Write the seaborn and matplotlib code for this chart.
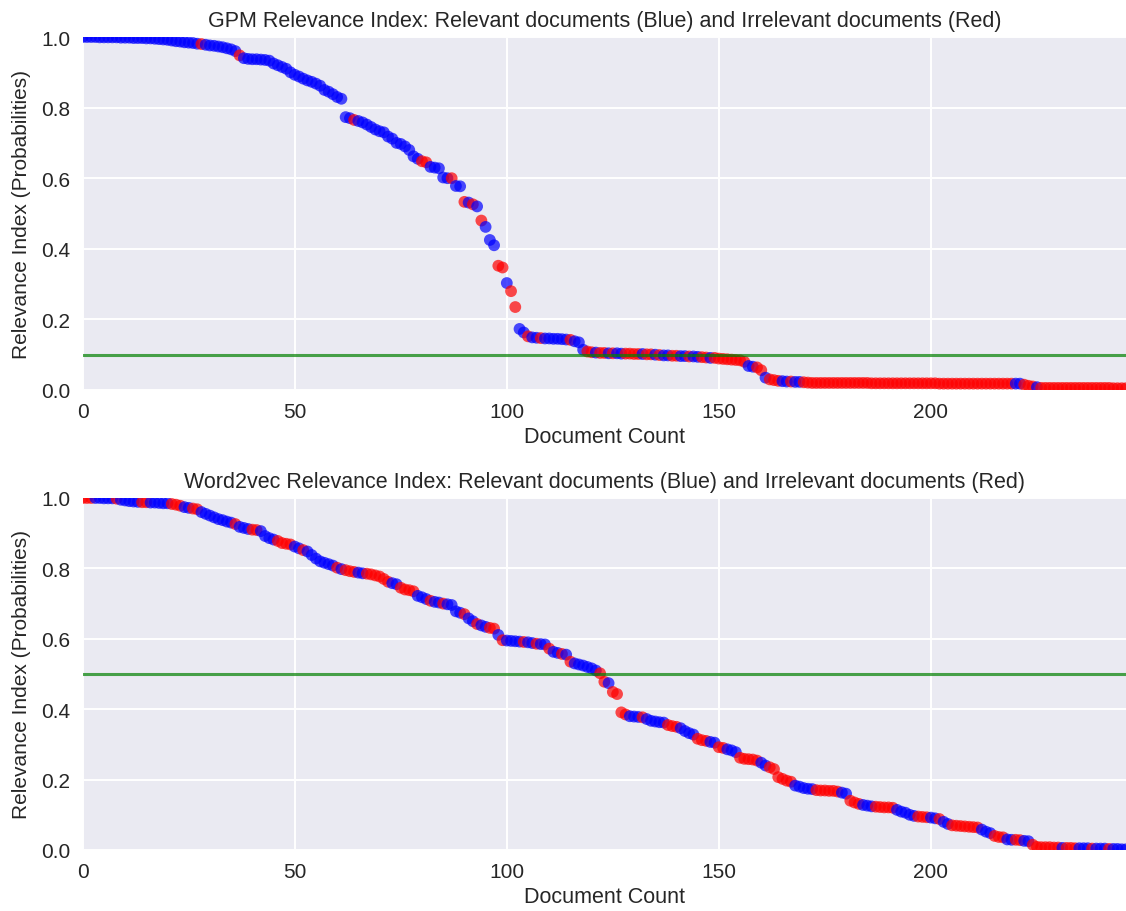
import numpy as np
import pandas as pd
import matplotlib
matplotlib.use("Agg")
import matplotlib.pyplot as plt
import seaborn as sns

# ---------------- data ----------------
gpm_values = [
    1.000, 1.000, 1.000, 1.000, 0.999, 0.999, 0.999, 0.999, 0.999, 0.998,
    0.998, 0.998, 0.997, 0.997, 0.997, 0.996, 0.996, 0.995, 0.994, 0.993,
    0.992, 0.990, 0.988, 0.987, 0.985, 0.984, 0.983, 0.981, 0.980, 0.978,
    0.976, 0.975, 0.973, 0.971, 0.968, 0.965, 0.960, 0.948, 0.940, 0.938,
    0.937, 0.937, 0.936, 0.935, 0.933, 0.925, 0.920, 0.915, 0.910, 0.900,
    0.893, 0.888, 0.882, 0.877, 0.873, 0.868, 0.862, 0.850, 0.845, 0.838,
    0.830, 0.825, 0.773, 0.770, 0.765, 0.762, 0.758, 0.752, 0.745, 0.738,
    0.733, 0.730, 0.718, 0.712, 0.700, 0.697, 0.690, 0.680, 0.662, 0.655,
    0.648, 0.645, 0.632, 0.630, 0.628, 0.602, 0.600, 0.600, 0.578, 0.577,
    0.533, 0.531, 0.526, 0.520, 0.480, 0.462, 0.425, 0.410, 0.352, 0.347,
    0.303, 0.280, 0.235, 0.173, 0.163, 0.152, 0.149, 0.148, 0.147, 0.146,
    0.146, 0.145, 0.145, 0.144, 0.143, 0.142, 0.138, 0.135, 0.114, 0.109,
    0.107, 0.106, 0.105, 0.105, 0.104, 0.104, 0.104, 0.103, 0.103, 0.103,
    0.102, 0.102, 0.102, 0.101, 0.101, 0.100, 0.099, 0.098, 0.098, 0.097,
    0.097, 0.096, 0.096, 0.095, 0.095, 0.094, 0.093, 0.092, 0.091, 0.091,
    0.089, 0.088, 0.087, 0.086, 0.085, 0.084, 0.080, 0.068, 0.066, 0.064,
    0.056, 0.035, 0.030, 0.028, 0.026, 0.025, 0.024, 0.024, 0.023, 0.023,
    0.022, 0.021, 0.020, 0.020, 0.020, 0.020, 0.020, 0.020, 0.020, 0.020,
    0.020, 0.020, 0.020, 0.020, 0.020, 0.020, 0.019, 0.019, 0.019, 0.019,
    0.019, 0.019, 0.019, 0.019, 0.019, 0.019, 0.019, 0.019, 0.019, 0.019,
    0.019, 0.019, 0.018, 0.018, 0.018, 0.018, 0.018, 0.018, 0.018, 0.018,
    0.018, 0.018, 0.018, 0.018, 0.018, 0.018, 0.018, 0.018, 0.018, 0.018,
    0.018, 0.018, 0.015, 0.012, 0.010, 0.008, 0.006, 0.006, 0.006, 0.006,
    0.006, 0.006, 0.006, 0.006, 0.006, 0.006, 0.006, 0.006, 0.006, 0.006,
    0.006, 0.006, 0.006, 0.005, 0.005, 0.005, 0.005,
]
# B = relevant (blue), R = irrelevant (red)
gpm_labels = (
    "BBBBBBBBBB" "BBBBBBBBBB" "BBBBBBBBRB" "BBBBBBBRBB" "BBBBBBBBBB"
    "BBBBBBBBBB" "BBBBRBBBBB" "BBBBBBBBBB" "RRBBBBBRBB" "RBRBRBBBRR"
    "BRRBBRBBRB" "BBBBBRBBBR" "RBRRBRBBRR" "RRBRRBRBBR" "RBBRBBRRBR"
    "RRRRRRRBBR" "RBRRRBBRBB" "RRRRRRRRRR" "RRRRRRRRRR" "RRRRRRRRRR"
    "RRRRRRRRRR" "RRRRRRRRRR" "BBRRRBRRRR" "RRRRRRRRRR" "RRRRRRR"
)

w2v_values = [
    1.000, 1.000, 1.000, 1.000, 1.000, 0.999, 0.999, 0.999, 0.998, 0.995,
    0.993, 0.991, 0.990, 0.989, 0.988, 0.988, 0.987, 0.987, 0.986, 0.985,
    0.985, 0.983, 0.981, 0.978, 0.974, 0.972, 0.970, 0.968, 0.960, 0.955,
    0.950, 0.945, 0.940, 0.937, 0.933, 0.930, 0.926, 0.918, 0.915, 0.912,
    0.910, 0.909, 0.906, 0.892, 0.886, 0.882, 0.878, 0.872, 0.870, 0.868,
    0.862, 0.857, 0.852, 0.848, 0.838, 0.828, 0.820, 0.816, 0.812, 0.808,
    0.802, 0.798, 0.795, 0.792, 0.790, 0.788, 0.786, 0.785, 0.783, 0.780,
    0.777, 0.770, 0.762, 0.758, 0.755, 0.745, 0.740, 0.738, 0.735, 0.722,
    0.718, 0.713, 0.708, 0.705, 0.703, 0.700, 0.698, 0.696, 0.678, 0.674,
    0.670, 0.658, 0.650, 0.642, 0.638, 0.634, 0.631, 0.629, 0.611, 0.596,
    0.595, 0.594, 0.593, 0.592, 0.591, 0.590, 0.588, 0.586, 0.585, 0.584,
    0.572, 0.563, 0.560, 0.557, 0.555, 0.535, 0.530, 0.527, 0.524, 0.520,
    0.516, 0.510, 0.502, 0.478, 0.474, 0.449, 0.443, 0.391, 0.385, 0.380,
    0.379, 0.378, 0.377, 0.372, 0.367, 0.365, 0.363, 0.362, 0.355, 0.352,
    0.350, 0.346, 0.338, 0.332, 0.328, 0.316, 0.312, 0.310, 0.307, 0.305,
    0.292, 0.290, 0.286, 0.283, 0.278, 0.262, 0.259, 0.258, 0.257, 0.254,
    0.248, 0.240, 0.235, 0.230, 0.207, 0.202, 0.197, 0.194, 0.183, 0.180,
    0.176, 0.174, 0.173, 0.170, 0.169, 0.169, 0.168, 0.168, 0.166, 0.163,
    0.160, 0.140, 0.135, 0.131, 0.128, 0.126, 0.124, 0.123, 0.122, 0.121,
    0.121, 0.120, 0.114, 0.109, 0.106, 0.100, 0.097, 0.095, 0.094, 0.093,
    0.092, 0.090, 0.088, 0.080, 0.074, 0.070, 0.069, 0.068, 0.067, 0.066,
    0.065, 0.064, 0.058, 0.052, 0.048, 0.040, 0.037, 0.036, 0.030, 0.029,
    0.029, 0.028, 0.026, 0.025, 0.015, 0.009, 0.008, 0.008, 0.008, 0.007,
    0.007, 0.006, 0.006, 0.006, 0.005, 0.005, 0.005, 0.005, 0.004, 0.004,
    0.004, 0.004, 0.003, 0.003, 0.003, 0.002, 0.002,
]
w2v_labels = (
    "RRRBBBBBRB" "BBBBRRBBBB" "BRRRBBRRBB" "BBBBBBRBBB" "RRBBBBRRRR"
    "BBRBBBBBBB" "RBRRRBBRRR" "RRRBBRRRRB" "BBRBBRBBBB" "RBBRBBRRBR"
    "BBBBRBBRBB" "RBBRBRBBBB" "BBRRBRRRRB" "BBRBBBBBRR" "RBBBBRRRBB"
    "RRBBBRRRRR" "BBRRRRRRBB" "BBBRRRRRRB" "BRRRBBBRRR" "RRBBBBBRRR"
    "BBRBBRRRRR" "RRBBBRRRBB" "RRBBRRRRRR" "RBRRRBBBRB" "BBRBBBB"
)

gpm_threshold = 0.1
w2v_threshold = 0.5

titles = [
    "GPM Relevance Index: Relevant documents (Blue) and Irrelevant documents (Red)",
    "Word2vec Relevance Index: Relevant documents (Blue) and Irrelevant documents (Red)",
]
x_label = "Document Count"
y_label = "Relevance Index (Probabilities)"
x_ticks = [0, 50, 100, 150, 200]
y_ticks = [0.0, 0.2, 0.4, 0.6, 0.8, 1.0]
class_names = {"B": "Relevant", "R": "Irrelevant"}
palette = {"Relevant": (0.0, 0.0, 1.0), "Irrelevant": (1.0, 0.0, 0.0)}

# ---------------- style ----------------
sns.set_style("darkgrid", {"axes.facecolor": "#EAEAF2", "grid.color": "white"})
plt.rcParams["font.family"] = ["Liberation Sans", "DejaVu Sans"]

W, H = 1126, 912
fig = plt.figure(figsize=(W / 100, H / 100), dpi=100)
left = 82.7 / W
ax_top = fig.add_axes([left, 1 - 391 / H, 1 - left, 353 / H])
ax_bot = fig.add_axes([left, 1 - 851 / H, 1 - left, 352 / H])

series = [
    (ax_top, gpm_values, gpm_labels, gpm_threshold, titles[0]),
    (ax_bot, w2v_values, w2v_labels, w2v_threshold, titles[1]),
]

for ax, vals, labs, thr, title in series:
    df = pd.DataFrame({
        "doc": np.arange(len(vals)),
        "rel": vals,
        "cls": [class_names[c] for c in labs],
    })
    sns.scatterplot(data=df, x="doc", y="rel", hue="cls", palette=palette,
                    s=72, alpha=0.7, linewidth=0, legend=False, ax=ax)
    ax.axhline(thr, color="g", alpha=0.7, linewidth=2.2)
    ax.set_xlim(0, len(vals) - 1)
    ax.set_ylim(0, 1.0)
    ax.set_xticks(x_ticks)
    ax.set_yticks(y_ticks)
    ax.set_yticklabels([f"{t:.1f}" for t in y_ticks])
    ax.tick_params(axis="both", labelsize=15, colors="#262626", pad=9, length=0)
    ax.set_xlabel(x_label, fontsize=15.5, color="#262626", labelpad=3)
    ax.set_ylabel(y_label, fontsize=15, color="#262626", labelpad=7)
    ax.set_title(title, fontsize=15.5, color="#262626", pad=8)
    ax.grid(True, color="white", linewidth=1.4)
    for sp in ax.spines.values():
        sp.set_visible(False)

fig.savefig("out.png", dpi=100)
